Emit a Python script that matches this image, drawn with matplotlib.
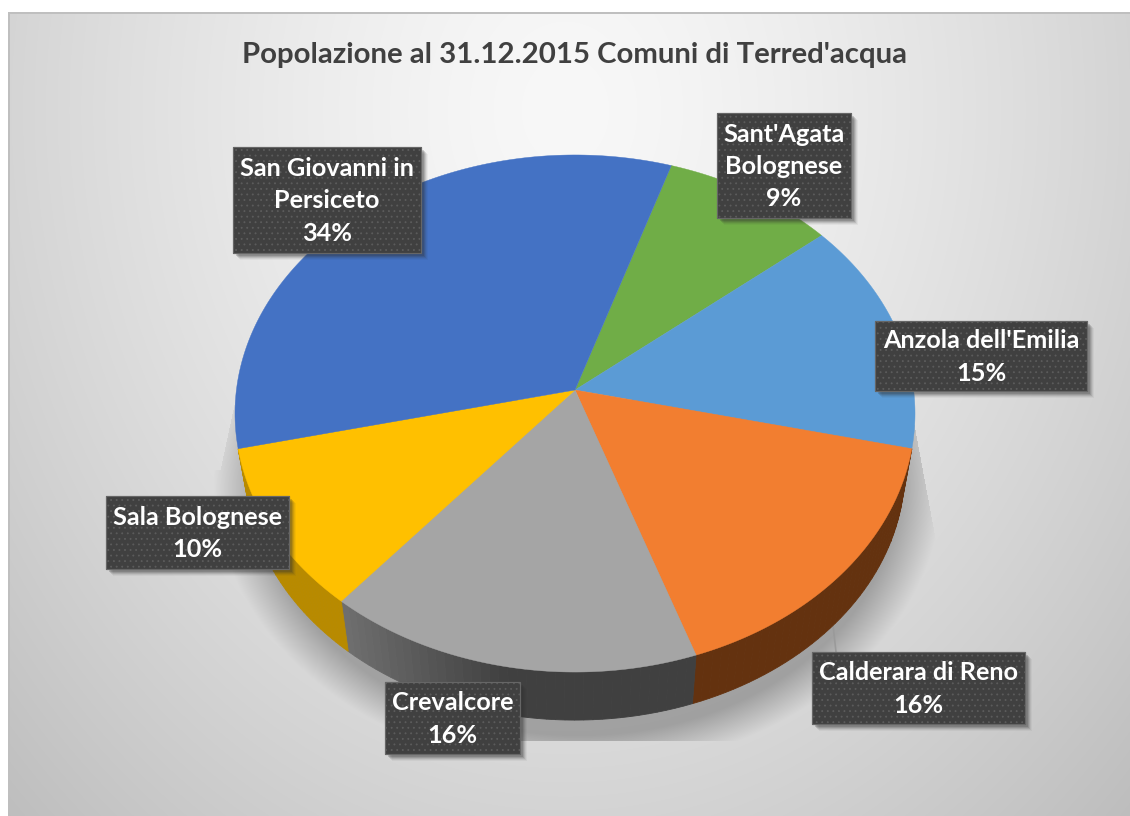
import numpy as np
import matplotlib
matplotlib.use('Agg')
import matplotlib.pyplot as plt
from matplotlib.patches import Rectangle
from matplotlib.colors import to_rgb

TITLE = "Popolazione al 31.12.2015 Comuni di Terred'acqua"

# clockwise from the green slice
names = ["Sant'Agata\nBolognese", "Anzola dell'Emilia", "Calderara di Reno",
         "Crevalcore", "Sala Bolognese", "San Giovanni in\nPersiceto"]
# shares, the labels show them rounded
share = [9.0, 14.6, 16.1, 16.4, 10.3, 33.6]

top_colors = ['#70ad47', '#5b9bd5', '#f27e30', '#a5a5a5', '#ffc000', '#4472c4']
# only the front slices show a rim
side_left = [None, None, '#64320f', '#6e6e6e', '#b88a00', None]
side_right = [None, None, '#64320f', '#404040', '#b88a00', None]

# label boxes in picture pixels: left, right, top, bottom
boxes = [(717, 851, 113, 218), (875, 1087, 321, 391), (812, 1025, 652, 724),
         (385, 520, 682, 754), (106, 289, 496, 569), (233, 421, 147, 253)]

W, H = 1130, 816
CX, CY = 575, 390
START = 18
K, A, B = 0.0909, 256.4, 338.6
BASE_SCALE, BASE_DROP = 0.97, 56.5


def project(theta):
    t = np.radians(theta)
    u, v = np.sin(t), np.cos(t)
    s = 1 / (1 + K * v)
    return CX + B * u * s, CY - A * v * s


def project_base(theta):
    x, y = project(theta)
    return CX + (x - CX) * BASE_SCALE, CY + (y - CY) * BASE_SCALE + BASE_DROP


def background():
    yy, xx = np.mgrid[0:H, 0:W]
    d = np.sqrt(((xx - 565) / 565.0) ** 2 + ((yy - 110) / 700.0) ** 2)
    img = 248 - 36 * d ** 1.4

    # soft shadow under the pie, cut off flat at the bottom and
    # with hard slanted edges on both sides like in the original
    r = np.sqrt(((xx - 578) / 365.0) ** 2 + ((yy - 480) / 290.0) ** 2)
    shade = np.clip((1.0 - r) / 0.12, 0, 1) * 0.26
    shade[yy > 740] = 0
    shade[(yy < 543) & (xx > 915 + (yy - 430) * 21 / 113.0)] = 0
    shade[(yy < 470) & (xx < 235 - (yy - 400) * 15 / 70.0)] = 0
    shade[yy < 400] = 0
    img = img * (1 - shade)

    img = np.clip(img, 0, 255) / 255.0
    rgb = np.dstack([img, img, img])
    rgb[:, :8] = 1
    rgb[:12] = 1
    rgb[12:14, 8:] = 0.75
    rgb[12:, 8:10] = np.minimum(rgb[12:, 8:10], 0.75)
    return rgb


plt.rcParams['font.family'] = ['Lato', 'DejaVu Sans']
plt.rcParams['hatch.linewidth'] = 0.6

fig = plt.figure(figsize=(W / 100, H / 100), dpi=100)
ax = fig.add_axes([0, 0, 1, 1])
ax.imshow(background(), extent=(0, W, H, 0), aspect='auto', zorder=0)
ax.set_xlim(0, W)
ax.set_ylim(H, 0)
ax.axis('off')

edges = START + np.concatenate([[0], np.cumsum(share)]) * 3.6

# rim first, the top hides whatever is behind it
for i in range(len(share)):
    if side_left[i] is None:
        continue
    steps = np.linspace(edges[i], edges[i + 1], 41)
    c0, c1 = np.array(to_rgb(side_left[i])), np.array(to_rgb(side_right[i]))
    for j in range(len(steps) - 1):
        seg = np.linspace(steps[j], steps[j + 1], 3)
        tx, ty = project(seg)
        bx, by = project_base(seg)
        # colour runs dark on the right, light on the left
        f = np.clip((tx.mean() - 345) / 160.0, 0, 1)
        col = c0 + (c1 - c0) * f
        ax.fill(np.r_[tx, bx[::-1]], np.r_[ty, by[::-1]], color=col, lw=0.6, zorder=2)

for i in range(len(share)):
    arc = np.linspace(edges[i], edges[i + 1], 120)
    x, y = project(arc)
    ax.fill(np.r_[CX, x], np.r_[CY, y], color=top_colors[i], lw=0.3, zorder=3)

ax.plot([833, 836], [625, 652], color='#9a9a9a', lw=1.2, zorder=1)

for name, val, (l, r, t, b) in zip(names, share, boxes):
    for off, alpha in ((7, 0.05), (6, 0.08), (5, 0.12), (4, 0.16), (3, 0.2)):
        ax.add_patch(Rectangle((l + off, t + off), r - l, b - t, fc='#303030',
                               ec='none', alpha=alpha, zorder=4))
    ax.add_patch(Rectangle((l, t), r - l, b - t, fc='#404040', ec='#5c5c5c',
                           hatch='...', lw=0.8, zorder=5))
    ax.add_patch(Rectangle((l, t), r - l, b - t, fc='none', ec='#666666',
                           lw=0.8, zorder=5))
    ax.text((l + r) / 2, (t + b) / 2 + 1, f"{name}\n{val:.0f}%", color='white',
            fontsize=18.2, fontweight='bold', ha='center', va='center',
            linespacing=1.48, zorder=6)

ax.text(574.5, 55, TITLE, color='#404040', fontsize=21.2, fontweight='bold',
        ha='center', va='center', zorder=6)

fig.savefig('out.png', dpi=100)
